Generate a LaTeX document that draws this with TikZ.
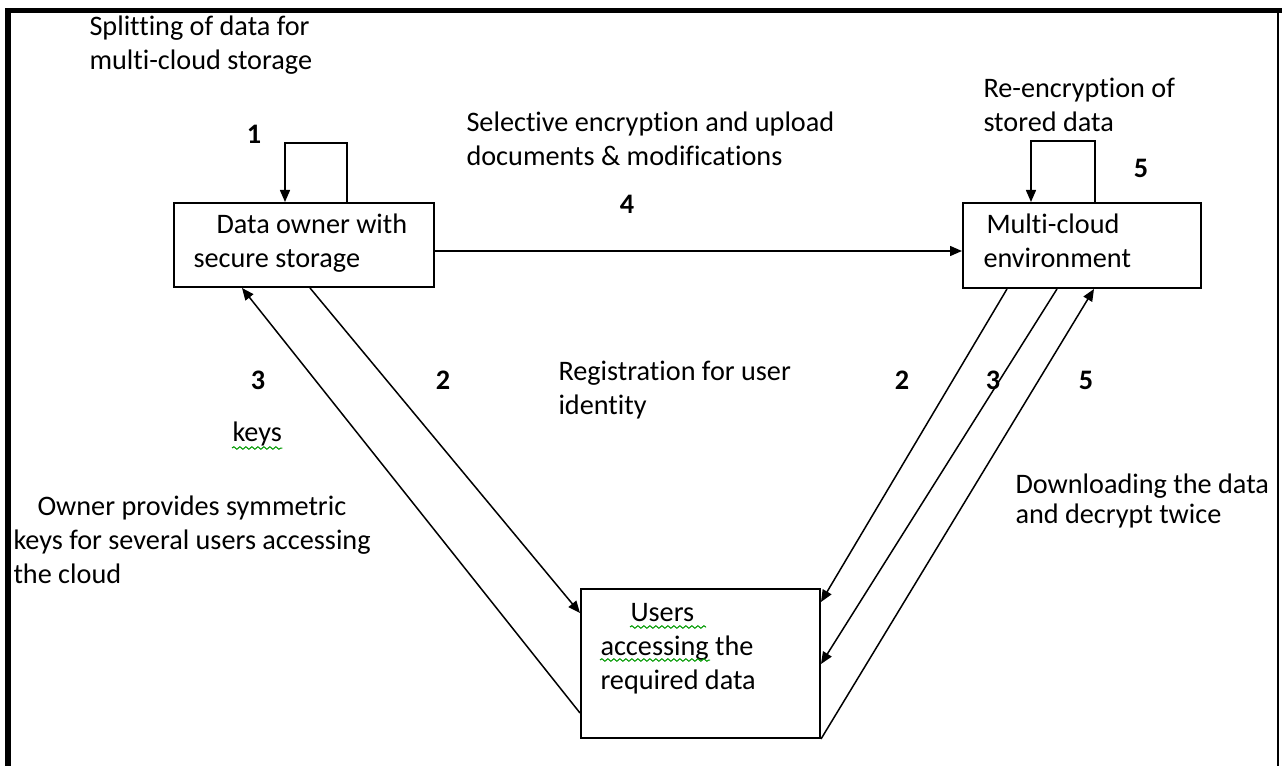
\documentclass[tikz,border=0pt]{standalone}
\usepackage{fontspec}
\setmainfont{Carlito}[Ligatures=NoCommon]
\usetikzlibrary{arrows.meta,calc,positioning,decorations.pathmorphing}

\begin{document}
\begin{tikzpicture}[x=0.4pt,y=-0.4pt,>={Triangle[length=4.8pt,width=4pt]},
  font=\fontsize{11.3}{13.6}\selectfont,
  box/.style={draw,line width=0.8pt,inner sep=0pt},
  txt/.style={anchor=base west,align=left,inner sep=0pt},
  num/.style={font=\fontsize{11.3}{13.6}\selectfont\bfseries,inner sep=0pt},
  flow/.style={->,line width=0.6pt},
  squiggle/.style={green!60!black,line width=0.4pt,decorate,
    decoration={snake,amplitude=0.5pt,segment length=2.4pt}}]
  \useasboundingbox (0,0) rectangle (1282,766);

  % Page frame (open at the bottom)
  \draw[line width=2pt] (8,766) -- (8,10.5) -- (1282,10.5);
  \draw[line width=0.8pt] (1278,10.5) -- (1278,766);

  % The three parties
  \node[box,minimum width=104pt,minimum height=33.6pt] (owner) at (304,245) {};
  \node[box,minimum width=95.2pt,minimum height=34pt] (cloud) at (1082,245.5) {};
  \node[box,minimum width=95.6pt,minimum height=59.6pt] (users) at (700.5,663.5) {};

  % (base = last line)
  \node[txt] (ownerTxt) at (193,268) {\hspace*{9.2pt}Data owner with\\secure storage};
  \node[txt] (cloudTxt) at (983,268) {\hspace*{1.2pt}Multi-cloud\\environment};
  \node[txt] (usersTxt) at (600,689) {\hspace*{12pt}Users\\accessing the\\required data};

  % Loops on the boxes
  \draw[flow] ($(owner.north west)+(174,0)$) -- ++(0,-59) -- ++(-62,0) -- ++(0,59);
  \draw[flow] ($(cloud.north west)+(133,0)$) -- ++(0,-61) -- ++(-64,0) -- ++(0,61);

  % Connectors between the parties
  \draw[flow] ($(owner.east)+(0,6)$) -- ($(cloud.west)+(0,5.5)$);
  \draw[flow] ($(users.south west)+(0,-26)$) -- ($(owner.south west)+(69,0)$);
  \draw[flow] ($(owner.south west)+(137,0)$) -- ($(users.north west)+(0,25)$);
  \draw[flow] ($(cloud.south west)+(45,0)$) -- ($(users.north east)+(0,14)$);
  \draw[flow] ($(cloud.south west)+(95,0)$) -- ($(users.north east)+(0,76)$);
  \draw[flow] (users.south east) -- ($(cloud.south west)+(132,0)$);

  % Step numbers
  \node[num] (n1) at (254,134) {1};
  \node[num] (n4) at (627,204) {4};
  \node[num] (n5top) at (1141,168) {5};
  \node[num] (n3left) at (258,380) {3};
  \node[num] (n2left) at (443,380) {2};
  \node[num] (n2right) at (902,380) {2};
  \node[num] (n3right) at (993,380) {3};
  \node[num] (n5right) at (1086,380) {5};

  % Descriptions
  \node[txt] (split) at (89,70) {Splitting of data for\\multi-cloud storage};
  \node[txt] (upload) at (466,166) {Selective encryption and upload\\documents \& modifications};
  \node[txt] (reenc) at (983,132) {Re-encryption of\\stored data};
  \node[txt] (regist) at (558,415) {Registration for user\\identity};
  \node[txt] (keys) at (232,442) {keys};
  \node[txt] (provide) at (13,583) {\hspace*{9.6pt}Owner provides symmetric\\keys for several users accessing\\the cloud};
  \node[txt,font=\fontsize{11.3}{12}\selectfont] (download) at (1015,523) {Downloading the data\\and decrypt twice};

  % Spelling marks
  \draw[squiggle] ($(keys.base west)+(0,6)$) -- ($(keys.base east)+(0,6)$);
  \draw[squiggle] (630,627) -- (706,627);
  \draw[squiggle] (600,660) -- (710,660);
\end{tikzpicture}
\end{document}
